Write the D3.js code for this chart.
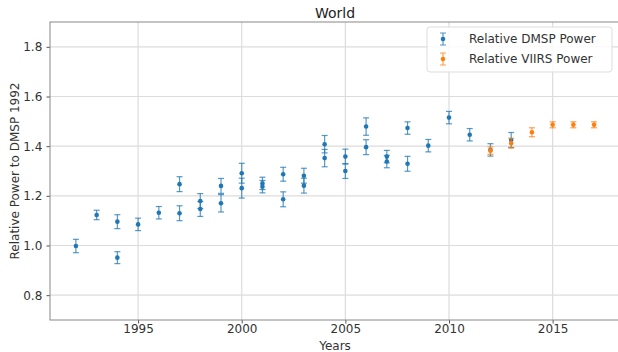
<!DOCTYPE html>
<html>
<head>
<meta charset="utf-8">
<script src="https://cdn.jsdelivr.net/npm/d3@7"></script>
<style>
  body { margin: 0; background: #fff; }
  svg { display: block; font-family: "DejaVu Sans", sans-serif; }
</style>
</head>
<body>
<svg></svg>
<script>
// DMSP points (several satellites per year)
var dmspYears = [1992, 1993, 1994, 1994, 1995, 1996, 1997, 1997, 1998, 1998,
  1999, 1999, 2000, 2000, 2001, 2001, 2002, 2002, 2003, 2003,
  2004, 2004, 2005, 2005, 2006, 2006, 2007, 2007, 2008, 2008,
  2009, 2010, 2011, 2012, 2013];
var dmspValues = [0.998, 1.123, 1.096, 0.951, 1.085, 1.132, 1.247, 1.13, 1.179, 1.147,
  1.24, 1.17, 1.291, 1.231, 1.25, 1.237, 1.287, 1.186, 1.281, 1.241,
  1.408, 1.352, 1.358, 1.30, 1.479, 1.396, 1.358, 1.338, 1.473, 1.329,
  1.402, 1.515, 1.446, 1.385, 1.425];
var dmspErrors = [0.027, 0.019, 0.028, 0.024, 0.025, 0.025, 0.03, 0.03, 0.03, 0.03,
  0.03, 0.035, 0.04, 0.04, 0.025, 0.025, 0.028, 0.03, 0.03, 0.03,
  0.035, 0.035, 0.03, 0.03, 0.035, 0.03, 0.025, 0.025, 0.025, 0.03,
  0.025, 0.025, 0.025, 0.025, 0.03];

var viirsYears = [2012, 2013, 2014, 2015, 2016, 2017];
var viirsValues = [1.382, 1.412, 1.456, 1.486, 1.486, 1.486];
var viirsErrors = [0.015, 0.02, 0.018, 0.012, 0.012, 0.012];

var xTicks = [1995, 2000, 2005, 2010, 2015];
var yTicks = [0.8, 1.0, 1.2, 1.4, 1.6, 1.8];

var width = 618, height = 352;
var plotLeft = 50, plotTop = 22, plotRight = 620, plotBottom = 320;

var svg = d3.select("svg")
  .attr("width", width)
  .attr("height", height);

var x = d3.scaleLinear().domain([1990.75, 2018.25]).range([plotLeft, plotRight]);
var y = d3.scaleLinear().domain([0.70, 1.90]).range([plotBottom, plotTop]);

// grid
svg.append("g")
  .selectAll("line")
  .data(xTicks)
  .enter()
  .append("line")
  .attr("x1", function(d) { return x(d); })
  .attr("x2", function(d) { return x(d); })
  .attr("y1", plotTop)
  .attr("y2", plotBottom)
  .attr("stroke", "#dcdcdc")
  .attr("stroke-width", 1.2);

svg.append("g")
  .selectAll("line")
  .data(yTicks)
  .enter()
  .append("line")
  .attr("x1", plotLeft)
  .attr("x2", plotRight)
  .attr("y1", function(d) { return y(d); })
  .attr("y2", function(d) { return y(d); })
  .attr("stroke", "#dcdcdc")
  .attr("stroke-width", 1.2);

// axes
var xAxis = svg.append("g")
  .attr("transform", "translate(0," + plotBottom + ")")
  .call(d3.axisBottom(x).tickValues(xTicks).tickFormat(d3.format("d")).tickSizeOuter(0).tickSize(3.5));
var yAxis = svg.append("g")
  .attr("transform", "translate(" + plotLeft + ",0)")
  .call(d3.axisLeft(y).tickValues(yTicks).tickFormat(d3.format(".1f")).tickSizeOuter(0).tickSize(3.5));

[xAxis, yAxis].forEach(function(g) {
  g.select(".domain").remove();
  g.selectAll(".tick line").attr("stroke", "#555");
  g.selectAll(".tick text")
    .attr("font-size", 12)
    .attr("font-family", "DejaVu Sans, sans-serif")
    .attr("fill", "#333");
});
xAxis.selectAll(".tick text").attr("dy", "0.55em");
yAxis.selectAll(".tick text").attr("dx", "-0.1em");

// frame
svg.append("rect")
  .attr("x", plotLeft)
  .attr("y", plotTop)
  .attr("width", plotRight - plotLeft)
  .attr("height", plotBottom - plotTop)
  .attr("fill", "none")
  .attr("stroke", "#888")
  .attr("stroke-width", 1);

function drawSeries(years, values, errors, color) {
  var g = svg.append("g");
  var pts = years.map(function(d, i) { return { yr: d, v: values[i], e: errors[i] }; });
  var eb = g.selectAll("g.eb").data(pts).enter().append("g")
    .attr("stroke", color)
    .attr("stroke-opacity", 0.75)
    .attr("stroke-width", 1.2);
  eb.append("line")
    .attr("x1", function(d) { return x(d.yr); })
    .attr("x2", function(d) { return x(d.yr); })
    .attr("y1", function(d) { return y(d.v - d.e); })
    .attr("y2", function(d) { return y(d.v + d.e); });
  eb.append("line")
    .attr("x1", function(d) { return x(d.yr) - 3; })
    .attr("x2", function(d) { return x(d.yr) + 3; })
    .attr("y1", function(d) { return y(d.v - d.e); })
    .attr("y2", function(d) { return y(d.v - d.e); });
  eb.append("line")
    .attr("x1", function(d) { return x(d.yr) - 3; })
    .attr("x2", function(d) { return x(d.yr) + 3; })
    .attr("y1", function(d) { return y(d.v + d.e); })
    .attr("y2", function(d) { return y(d.v + d.e); });
  g.selectAll("circle").data(pts).enter().append("circle")
    .attr("cx", function(d) { return x(d.yr); })
    .attr("cy", function(d) { return y(d.v); })
    .attr("r", 2.3)
    .attr("fill", color);
}

drawSeries(dmspYears, dmspValues, dmspErrors, "#1f77b4");
drawSeries(viirsYears, viirsValues, viirsErrors, "#ff7f0e");

// title and labels
svg.append("text")
  .attr("x", (plotLeft + plotRight) / 2)
  .attr("y", 18)
  .attr("text-anchor", "middle")
  .attr("font-size", 14)
  .attr("fill", "#222")
  .text("World");

svg.append("text")
  .attr("x", (plotLeft + plotRight) / 2)
  .attr("y", 350)
  .attr("text-anchor", "middle")
  .attr("font-size", 12)
  .attr("fill", "#333")
  .text("Years");

svg.append("text")
  .attr("transform", "translate(19," + (plotTop + plotBottom) / 2 + ") rotate(-90)")
  .attr("text-anchor", "middle")
  .attr("font-size", 12)
  .attr("fill", "#333")
  .text("Relative Power to DMSP 1992");

// legend
var legendItems = [
  { label: "Relative DMSP Power", color: "#1f77b4" },
  { label: "Relative VIIRS Power", color: "#ff7f0e" }
];
var lg = svg.append("g").attr("transform", "translate(427,27)");
lg.append("rect")
  .attr("width", 185)
  .attr("height", 45)
  .attr("rx", 3)
  .attr("fill", "#fff")
  .attr("fill-opacity", 0.85)
  .attr("stroke", "#ddd");
var li = lg.selectAll("g.item").data(legendItems).enter().append("g")
  .attr("transform", function(d, i) { return "translate(16," + (12 + i * 20) + ")"; });
li.append("line")
  .attr("y1", -6).attr("y2", 6)
  .attr("stroke", function(d) { return d.color; })
  .attr("stroke-opacity", 0.75)
  .attr("stroke-width", 1.2);
li.append("line")
  .attr("x1", -3).attr("x2", 3).attr("y1", -6).attr("y2", -6)
  .attr("stroke", function(d) { return d.color; })
  .attr("stroke-opacity", 0.75);
li.append("line")
  .attr("x1", -3).attr("x2", 3).attr("y1", 6).attr("y2", 6)
  .attr("stroke", function(d) { return d.color; })
  .attr("stroke-opacity", 0.75);
li.append("circle")
  .attr("r", 2.3)
  .attr("fill", function(d) { return d.color; });
li.append("text")
  .attr("x", 26)
  .attr("dy", "0.35em")
  .attr("font-size", 12)
  .attr("fill", "#333")
  .text(function(d) { return d.label; });
</script>
</body>
</html>
